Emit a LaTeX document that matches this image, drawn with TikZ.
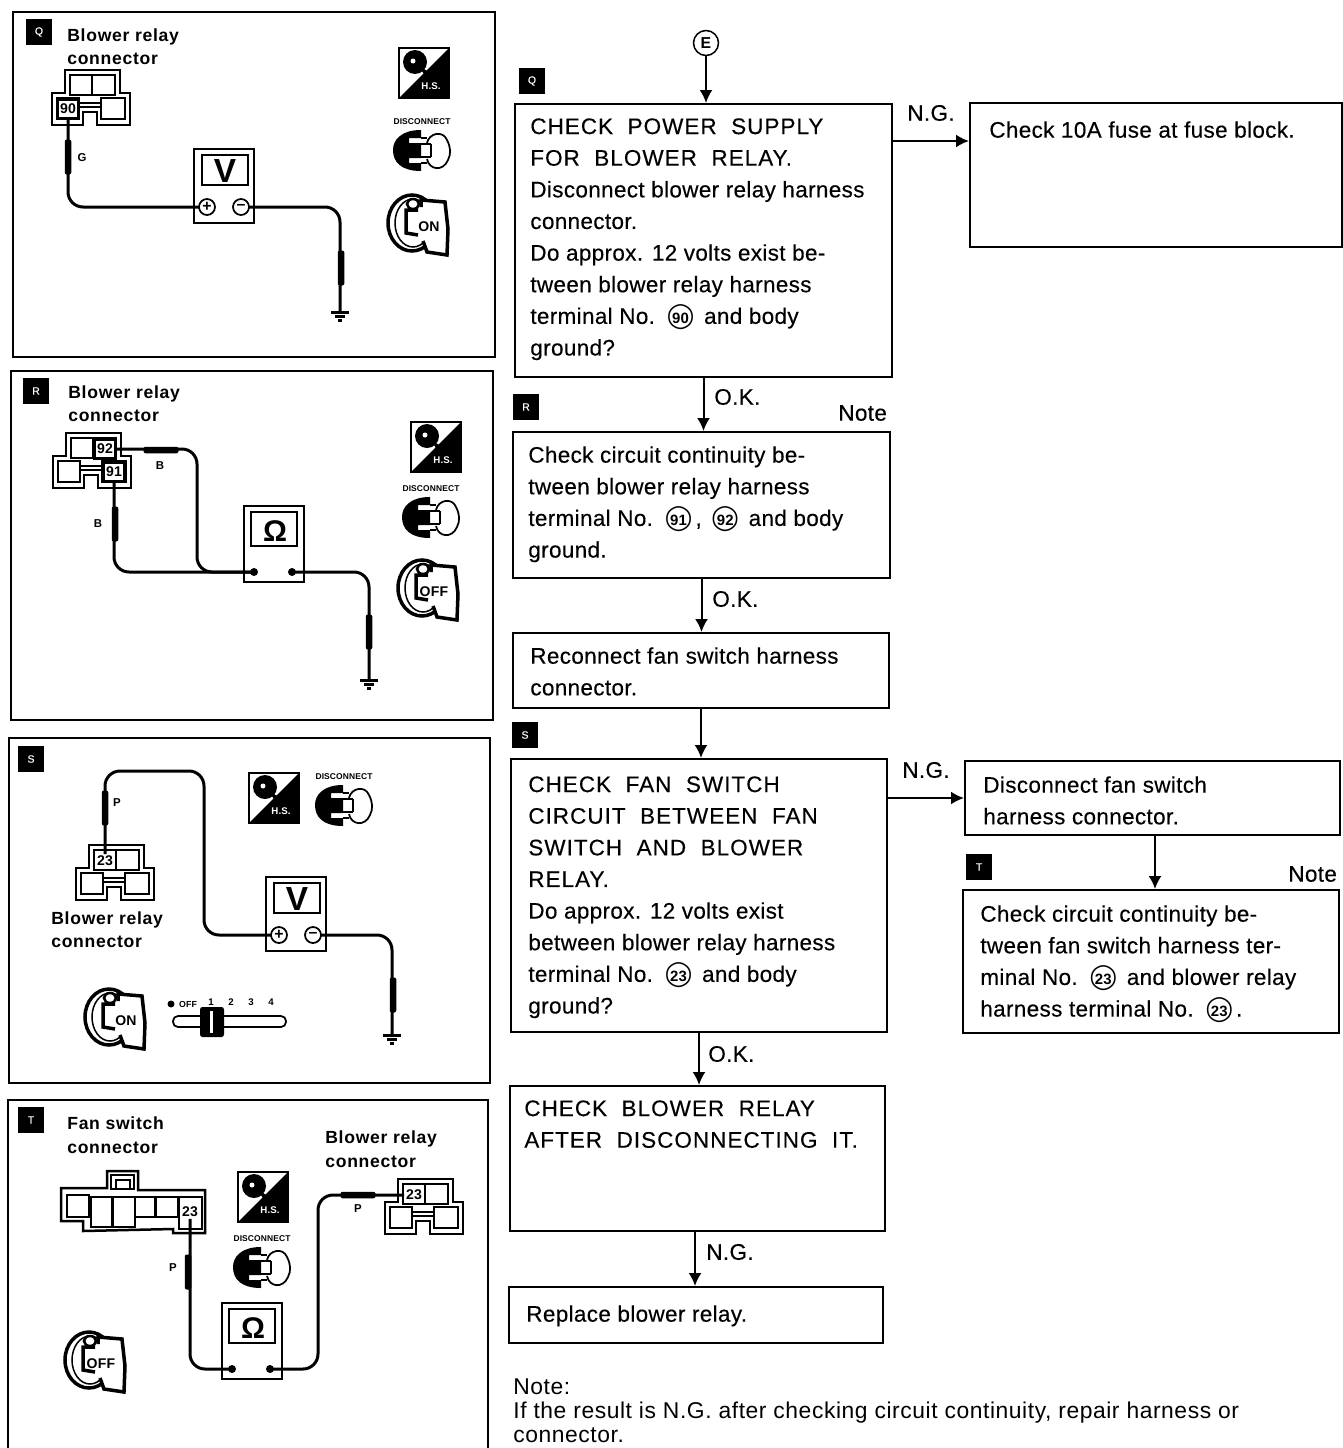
\documentclass[tikz,border=0pt]{standalone}
\usepackage{fontspec}
\setmainfont{Liberation Sans}[LetterSpace=1.5,UprightFeatures={FakeBold=0.3}]
\newfontfamily\capsfont[LetterSpace=4.5,WordSpace=2,FakeBold=0.3]{Liberation Sans}
\newfontfamily\labelfont[LetterSpace=4]{Liberation Sans}
\newfontfamily\notefont[LetterSpace=2.5]{Liberation Sans}
\newfontfamily\symfont{DejaVu Sans}
\usetikzlibrary{arrows.meta,fit,positioning,calc}
\newcommand\bodysize{\fontsize{12.8}{18}\selectfont}
\newcommand\termno[1]{\makebox[1.5em]{\makebox[0pt]{\symfont\fontsize{14}{14}\selectfont ◯}\makebox[0pt]{\bfseries\fontsize{8.5}{8.5}\selectfont #1}}}
\tikzset{
  panel/.style={draw, line width=.45mm, inner sep=0pt},
  flowbox/.style={draw, line width=.4mm, inner sep=0pt},
  txt/.style={font=\bodysize, align=left, anchor=north west, inner sep=0pt},
  captext/.style={font=\labelfont\bfseries\fontsize{10}{13.6}\selectfont, align=left, anchor=north west, inner sep=0pt},
  tag/.style={font=\bodysize, anchor=west, inner sep=0pt},
  badge/.style={fill=black, text=white, font=\fontsize{6}{6}\selectfont, minimum size=5.2mm, inner sep=0pt},
  arr/.style={line width=.4mm, -{Latex[length=2.6mm,width=2.6mm]}},
  wire/.style={line width=.6mm, rounded corners=3mm},
  probev/.style={fill=black, inner sep=0pt, rounded corners=.4mm, minimum width=1.3mm, minimum height=7mm},
  probeh/.style={fill=black, inner sep=0pt, rounded corners=.4mm, minimum width=7mm, minimum height=1.3mm},
  pinlabel/.style={font=\bfseries\fontsize{8}{8}\selectfont, inner sep=.3mm},
  hot/.style={draw, line width=.6mm, minimum width=4.2mm, minimum height=3.8mm},
  lead/.style={font=\bfseries\fontsize{6.5}{6.5}\selectfont, inner sep=0pt},
  % the tester, with its two kinds of terminals
  pics/voltmeter/.style={code={
    \draw[line width=.4mm] (0,0) rectangle (60,74);
    \draw[line width=.5mm] (8,6) rectangle (54,36);
    \node[font=\bfseries\fontsize{19}{19}\selectfont, inner sep=0pt] (-sym) at (31,22) {V};
    \node[draw, circle, line width=.35mm, minimum size=3.2mm, inner sep=0pt, font=\bfseries\fontsize{9}{9}\selectfont] (-pos) at (13,58) {+};
    \node[draw, circle, line width=.35mm, minimum size=3.2mm, inner sep=0pt, font=\bfseries\fontsize{9}{9}\selectfont] (-neg) at (47,58) {–};
    \coordinate (-p) at (5,58);
    \coordinate (-n) at (55,58);
  }},
  pics/ohmmeter/.style={code={
    \draw[line width=.4mm] (0,0) rectangle (60,76);
    \draw[line width=.5mm] (7,6) rectangle (53,40);
    \node[font=\bfseries\fontsize{17}{17}\selectfont, inner sep=0pt] (-sym) at (31,25) {Ω};
    \fill (10,66) circle (.8mm);
    \fill (48,66) circle (.8mm);
    \coordinate (-p) at (10,66);
    \coordinate (-n) at (48,66);
  }},
  pics/ground/.style={code={
    \draw[line width=.6mm] (-9,0) -- (9,0);
    \draw[line width=.6mm] (-5,4) -- (5,4);
    \draw[line width=.6mm] (-2,8) -- (2,8);
    \coordinate (-t) at (0,0);
  }},
  pics/relayconn/.style={code={
    \draw[line width=.5mm] (13,0) -- (68,0) -- (68,23) -- (78,23) -- (78,55) -- (45,55) -- (45,42) -- (31,42) -- (31,55) -- (0,55) -- (0,23) -- (13,23) -- cycle;
    \draw[line width=.4mm] (18,5) rectangle (40,25) (40,5) rectangle (63,25) (5,28) rectangle (27,49) (49,28) rectangle (73,49);
    \draw[line width=.35mm] (27,33) -- (49,33) (27,37) -- (49,37);
    \coordinate (-a) at (29,16);
    \coordinate (-b) at (52,16);
    \coordinate (-c) at (16,39);
    \coordinate (-d) at (61,39);
  }},
  pics/fanconn/.style={code={
    \draw[line width=.5mm] (0,17) -- (46,17) -- (46,0) -- (77,0) -- (77,19) -- (144,19) -- (144,62) -- (112,62) -- (112,58) -- (22,60) -- (22,50) -- (0,50) -- cycle;
    \draw[line width=.4mm] (6,24) rectangle (28,46) (30,26) rectangle (51,56) (52,26) rectangle (74,56) (74,26) rectangle (94,46) (95,26) rectangle (117,46) (118,26) rectangle (141,58) (50,4) rectangle (73,18) (55,9) rectangle (69,18);
    \coordinate (-f) at (129,41);
  }},
  pics/hsicon/.style={code={
    \draw[line width=.3mm] (0,0) rectangle (50,50);
    \fill (0,50) -- (50,0) -- (50,50) -- cycle;
    \fill (16,14) circle (2.4mm);
    \fill (20,18) -- (30,24) -- (26,28) -- cycle;
    \fill[white] (14,13) circle (.5mm);
    \node[text=white, font=\bfseries\fontsize{5.5}{5.5}\selectfont, inner sep=0pt] (-hs) at (32,38) {H.S.};
  }},
  pics/plugicon/.style={code={
    \node[font=\bfseries\fontsize{4.8}{4.8}\selectfont, inner sep=0pt] (-lab) at (29,-8) {DISCONNECT};
    \fill (28,0) .. controls (8,0) and (0,10) .. (0,20) .. controls (0,32) and (8,41) .. (28,41) -- (28,33) -- (16,33) -- (16,28) -- (28,28) -- (28,13) -- (16,13) -- (16,8) -- (28,8) -- cycle;
    \draw[line width=.3mm] (28,14) -- (38,14) (28,27) -- (38,27) (38,14) -- (38,27);
    \draw[line width=.35mm] (34,13) .. controls (36,3) and (50,0) .. (54,10) .. controls (58,18) and (58,24) .. (55,30) .. controls (50,42) and (36,40) .. (34,29);
    \draw[line width=.3mm] (28,8) -- (34,8) (28,33) -- (34,33);
  }},
  pics/keyicon/.style 2 args={code={
    \draw[line width=.7mm] (24,30) ellipse (4.8mm and 5.6mm);
    \draw[line width=.3mm] (25,30) ellipse (3.6mm and 4.8mm);
    \fill[white] (33,7) -- (57,9) -- (59,62) -- (39,59) -- (35,48) -- cycle;
    \draw[line width=.7mm] (33,14) -- (33,7) -- (57,9) -- (60,36) -- (59,62) -- (39,59) -- (35,48);
    \draw[line width=.7mm] (30,17) -- (18,17) -- (18,40) -- (30,42);
    \draw[line width=.5mm, fill=white] (25,11) ellipse (1.2mm and 1mm);
    \node[font=\bfseries\fontsize{8}{8}\selectfont, inner sep=0pt] (-lab) at (#1) {#2};
  }},
}
\begin{document}
\begin{tikzpicture}[x=.2mm, y=-.2mm]
  \useasboundingbox (0,0) rectangle (1343,1448);

  % panel for the step Q
  \node[panel, fit={(13,12) (495,357)}] (pq) {};
  \node[badge] (bq) at (39,32) {Q};
  \node[captext] (cq) at (67,28) {Blower relay\\connector};
  \pic (c1) at (52,70) {relayconn};
  \node[pinlabel, hot] (t90) at (c1-c) {90};
  \pic (m1) at (194,149) {voltmeter};
  \pic (g1) at (340,312) {ground};
  \node[probev] (pr1) at (68,157) {};
  \node[probev] (pr2) at (341,268) {};
  \draw[wire] (t90.south) |- (m1-p);
  \draw[wire] (m1-n) -| (g1-t);
  \node[lead] (l1) at (82,158) {G};
  \pic (h1) at (399,48) {hsicon};
  \pic (d1) at (393,130) {plugicon};
  \pic (k1) at (388,193) {keyicon={41,34}{ON}};

  % panel for the step R
  \node[panel, fit={(11,371) (493,720)}] (pr) {};
  \node[badge] (br) at (36,391) {R};
  \node[captext] (cr) at (68,385) {Blower relay\\connector};
  \pic (c2) at (53,433) {relayconn};
  \node[pinlabel, hot] (t92) at (c2-b) {92};
  \node[pinlabel, hot] (t91) at (c2-d) {91};
  \pic (m2) at (244,506) {ohmmeter};
  \pic (g2) at (369,680) {ground};
  \coordinate (j2) at (197,572);
  \node[probev] (pr3) at (115,524) {};
  \node[probeh] (pr4) at (161,450) {};
  \node[probev] (pr5) at (369,632) {};
  \draw[wire] (t91.south) |- (m2-p);
  \draw[wire] (t92.east) -| (j2) -- (m2-p);
  \draw[wire] (m2-n) -| (g2-t);
  \node[lead] (l2) at (160,466) {B};
  \node[lead] (l3) at (98,524) {B};
  \pic (h2) at (411,422) {hsicon};
  \pic (d2) at (402,497) {plugicon};
  \pic (k2) at (398,558) {keyicon={36,34}{OFF}};

  % panel for the step S
  \node[panel, fit={(9,738) (490,1083)}] (ps) {};
  \node[badge] (bs) at (31,759) {S};
  \node[captext] (cs) at (51,911) {Blower relay\\connector};
  \pic (c3) at (76,845) {relayconn};
  \node[pinlabel] (t23a) at (c3-a) {23};
  \pic (m3) at (266,877) {voltmeter};
  \pic (g3) at (392,1035) {ground};
  \coordinate (j3) at (204,771);
  \node[probev] (pr6) at (105,808) {};
  \node[probev] (pr7) at (393,995) {};
  \draw[wire] (t23a.north) |- (j3) |- (m3-p);
  \draw[wire] (m3-n) -| (g3-t);
  \node[lead] (l4) at (117,803) {P};
  \pic (h3) at (249,773) {hsicon};
  \pic (d3) at (315,785) {plugicon};
  \pic (k3) at (85,987) {keyicon={41,34}{ON}};
  \draw[line width=.35mm, rounded corners=1mm] (173,1016) rectangle (286,1027);
  \node[fill=black, inner sep=0pt, rounded corners=.5mm, minimum width=4.8mm, minimum height=6mm] (knob) at (212,1022) {};
  \node[fill=white, inner sep=0pt, minimum width=.6mm, minimum height=4.4mm] (slit) at (211,1022) {};
  \node[fill=black, circle, inner sep=0pt, minimum size=1.4mm] (fan) at (171,1004) {};
  \node[lead, font=\bfseries\fontsize{5}{5}\selectfont] (off) at (188,1004) {OFF};
  \foreach \n/\x in {1/211,2/231,3/251,4/271}
    \node[lead, font=\bfseries\fontsize{5.5}{5.5}\selectfont] (sp\n) at (\x,1002) {\n};

  % panel for the step T
  \node[panel, fit={(8,1100) (488,1449)}] (pt) {};
  \node[badge] (bt) at (31,1120) {T};
  \node[captext] (ct1) at (67,1116) {Fan switch\\connector};
  \node[captext] (ct2) at (325,1130) {Blower relay\\connector};
  \pic (c4) at (61,1171) {fanconn};
  \pic (c5) at (385,1179) {relayconn};
  \node[pinlabel] (t23b) at (c4-f) {23};
  \node[pinlabel] (t23c) at (c5-a) {23};
  \pic (m4) at (222,1303) {ohmmeter};
  \coordinate (j4) at (318,1195);
  \node[probev] (pr8) at (188,1272) {};
  \node[probeh] (pr9) at (358,1195) {};
  \draw[wire] (t23b.south) |- (m4-p);
  \draw[wire] (m4-n) -| (j4) -- (t23c.west);
  \node[lead] (l5) at (173,1268) {P};
  \node[lead] (l6) at (358,1209) {P};
  \pic (h4) at (238,1172) {hsicon};
  \pic (d4) at (233,1247) {plugicon};
  \pic (k4) at (65,1330) {keyicon={36,34}{OFF}};

  % flow chart
  \node[draw, circle, line width=.3mm, minimum size=5mm, inner sep=0pt, font=\bfseries\fontsize{9}{9}\selectfont] (refe) at (706,43) {E};
  \node[badge] (sq) at (532,81) {Q};
  \node[badge] (sr) at (526,407) {R};
  \node[badge] (ss) at (525,735) {S};
  \node[badge] (st) at (979,867) {T};

  \node[flowbox, fit={(515,104) (892,377)}] (boxa) {};
  \node[flowbox, fit={(970,103) (1342,247)}] (boxn) {};
  \node[flowbox, fit={(513,432) (890,578)}] (boxb) {};
  \node[flowbox, fit={(513,633) (889,708)}] (boxc) {};
  \node[flowbox, fit={(511,759) (887,1032)}] (boxd) {};
  \node[flowbox, fit={(965,761) (1340,835)}] (boxe) {};
  \node[flowbox, fit={(963,890) (1339,1033)}] (boxf) {};
  \node[flowbox, fit={(510,1086) (885,1231)}] (boxg) {};
  \node[flowbox, fit={(509,1287) (883,1343)}] (boxh) {};

  \node[txt] (ta) at (530,118) {{\capsfont CHECK POWER SUPPLY}\\{\capsfont FOR BLOWER RELAY.}\\Disconnect blower relay harness\\connector.\\Do approx. 12 volts exist be-\\tween blower relay harness\\terminal No. \termno{90} and body\\ground?};
  \node[txt] (tn) at (989,121) {Check 10A fuse at fuse block.};
  \node[txt] (tb) at (528,446) {Check circuit continuity be-\\tween blower relay harness\\terminal No. \termno{91}, \termno{92} and body\\ground.};
  \node[txt] (tc) at (530,647) {Reconnect fan switch harness\\connector.};
  \node[txt] (td) at (528,776) {{\capsfont CHECK FAN SWITCH}\\{\capsfont CIRCUIT BETWEEN FAN}\\{\capsfont SWITCH AND BLOWER}\\{\capsfont RELAY.}\\Do approx. 12 volts exist\\between blower relay harness\\terminal No. \termno{23} and body\\ground?};
  \node[txt] (te) at (983,776) {Disconnect fan switch\\harness connector.};
  \node[txt] (tf) at (980,905) {Check circuit continuity be-\\tween fan switch harness ter-\\minal No. \termno{23} and blower relay\\harness terminal No. \termno{23}.};
  \node[txt] (tg) at (524,1100) {{\capsfont CHECK BLOWER RELAY}\\{\capsfont AFTER DISCONNECTING IT.}};
  \node[txt] (th) at (526,1305) {Replace blower relay.};

  \draw[arr] (refe.south) -- (refe.south |- boxa.north);
  \draw[arr] (boxa.south) -- (boxa.south |- boxb.north);
  \draw[arr] (boxb.south) -- (boxb.south |- boxc.north);
  \draw[arr] (boxc.south) -- (boxc.south |- boxd.north);
  \draw[arr] (boxd.south) -- (boxd.south |- boxg.north);
  \draw[arr] ([xshift=-.5mm]boxg.south) -- ([xshift=-.5mm]boxg.south |- boxh.north);
  \draw[arr] ([xshift=.5mm]boxe.south) -- ([xshift=.5mm]boxe.south |- boxf.north);
  \coordinate (nga) at (892,141);
  \draw[arr] (nga) -- (nga -| boxn.west);
  \draw[arr] (boxd.east |- boxe.west) -- (boxe.west);

  \node[tag] (ok1) at (714,397) {O.K.};
  \node[tag] (ok2) at (712,599) {O.K.};
  \node[tag] (ok3) at (708,1054) {O.K.};
  \node[tag] (ng1) at (907,113) {N.G.};
  \node[tag] (ng2) at (902,770) {N.G.};
  \node[tag] (ng3) at (706,1252) {N.G.};
  \node[tag] (nt1) at (838,413) {Note};
  \node[tag] (nt2) at (1288,874) {Note};

  \node[txt, font=\notefont\fontsize{13}{13.9}\selectfont] (note) at (513,1378) {Note:\\If the result is N.G. after checking circuit continuity, repair harness or\\connector.};
\end{tikzpicture}
\end{document}
